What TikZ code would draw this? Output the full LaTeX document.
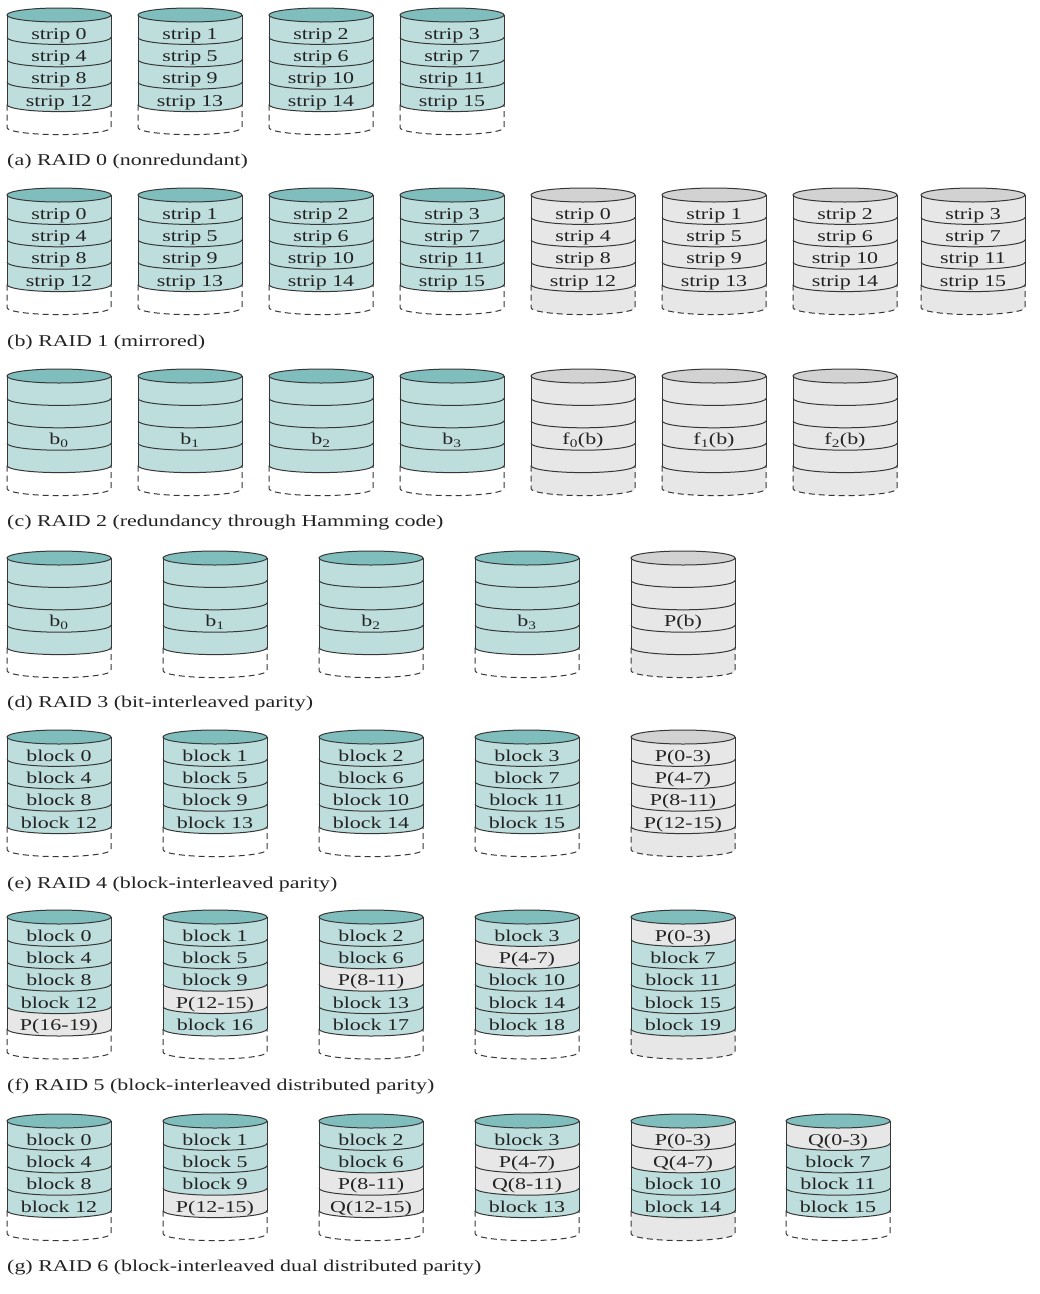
\documentclass[tikz,border=0pt]{standalone}
\usepackage{fontspec}
\setmainfont{Liberation Serif}[FakeStretch=1.33]
\definecolor{tealbody}{RGB}{190,222,221}
\definecolor{tealtop}{RGB}{128,190,190}
\definecolor{graybody}{RGB}{231,231,231}
\definecolor{graytop}{RGB}{210,210,210}
\definecolor{ink}{RGB}{55,55,55}
\definecolor{txtc}{RGB}{35,35,35}
\tikzset{
  rowT/.style={fill=tealbody},
  rowG/.style={fill=graybody},
  rowW/.style={fill=white},
  ln/.style={draw=ink,line width=1pt},
  dsh/.style={draw=ink,line width=1pt,dash pattern=on 6pt off 4pt},
  txt/.style={text=txtc,font=\fontsize{16.5}{18}\selectfont,inner sep=0pt,text height=12pt,text depth=2pt},
  lbl/.style={txt,anchor=west}
}
% #1 name, #2 x, #3 y0 (top), #4 number of rows, #5 top colour, #6 bottom fill style, #7 rows
\newcommand\disk[7]{%
 \begin{scope}[shift={(#2,-#3)}]
  \pgfmathsetmacro\ybot{-14-#4*22.4}
  \foreach \fl/\lab [count=\i from 0] in {#7}{
    \pgfmathsetmacro\yt{-14-\i*22.4}
    \pgfmathsetmacro\yb{\yt-22.4}
    \path[\fl] (0,\yt+7) arc[start angle=180,end angle=360,x radius=52,y radius=7] -- (104,\yb+7) arc[start angle=0,end angle=-180,x radius=52,y radius=7] -- cycle;
  }
  \path[#6] (0,\ybot+7) arc[start angle=180,end angle=360,x radius=52,y radius=7] -- (104,\ybot-16) arc[start angle=0,end angle=-180,x radius=52,y radius=7] -- cycle;
  \foreach \fl/\lab [count=\i from 0] in {#7}{
    \pgfmathsetmacro\yt{-14-\i*22.4}
    \pgfmathsetmacro\yb{\yt-22.4}
    \draw[ln] (0,\yb+7) arc[start angle=180,end angle=360,x radius=52,y radius=7];
    \node[txt] (#1-\i) at (52,\yt-12) {\lab};
  }
  \draw[ln] (0,-7) -- (0,\ybot+7) (104,-7) -- (104,\ybot+7);
  \draw[dsh] (0,\ybot+7) -- (0,\ybot-16) arc[start angle=180,end angle=360,x radius=52,y radius=7] -- (104,\ybot+7);
  \draw[ln,fill=#5] (52,-7) ellipse[x radius=52,y radius=7];
 \end{scope}}
\begin{document}
\begin{tikzpicture}[x=1pt,y=1pt]
\useasboundingbox (0,0) rectangle (1040,-1294);
\fill[white] (0,0) rectangle (1040,-1294);
% (a) RAID 0
\disk{a1}{7}{8}{4}{tealtop}{rowW}{rowT/strip 0,rowT/strip 4,rowT/strip 8,rowT/strip 12}
\disk{a2}{138}{8}{4}{tealtop}{rowW}{rowT/strip 1,rowT/strip 5,rowT/strip 9,rowT/strip 13}
\disk{a3}{269}{8}{4}{tealtop}{rowW}{rowT/strip 2,rowT/strip 6,rowT/strip 10,rowT/strip 14}
\disk{a4}{400}{8}{4}{tealtop}{rowW}{rowT/strip 3,rowT/strip 7,rowT/strip 11,rowT/strip 15}
\node[lbl] (la) at (7,-160) {(a) RAID 0 (nonredundant)};
% (b) RAID 1
\disk{b1}{7}{188}{4}{tealtop}{rowW}{rowT/strip 0,rowT/strip 4,rowT/strip 8,rowT/strip 12}
\disk{b2}{138}{188}{4}{tealtop}{rowW}{rowT/strip 1,rowT/strip 5,rowT/strip 9,rowT/strip 13}
\disk{b3}{269}{188}{4}{tealtop}{rowW}{rowT/strip 2,rowT/strip 6,rowT/strip 10,rowT/strip 14}
\disk{b4}{400}{188}{4}{tealtop}{rowW}{rowT/strip 3,rowT/strip 7,rowT/strip 11,rowT/strip 15}
\disk{b5}{531}{188}{4}{graytop}{rowG}{rowG/strip 0,rowG/strip 4,rowG/strip 8,rowG/strip 12}
\disk{b6}{662}{188}{4}{graytop}{rowG}{rowG/strip 1,rowG/strip 5,rowG/strip 9,rowG/strip 13}
\disk{b7}{793}{188}{4}{graytop}{rowG}{rowG/strip 2,rowG/strip 6,rowG/strip 10,rowG/strip 14}
\disk{b8}{921}{188}{4}{graytop}{rowG}{rowG/strip 3,rowG/strip 7,rowG/strip 11,rowG/strip 15}
\node[lbl] (lb) at (7,-341) {(b) RAID 1 (mirrored)};
% (c) RAID 2
\disk{c1}{7}{369}{4}{tealtop}{rowW}{rowT/{},rowT/{},rowT/b\textsubscript{0},rowT/{}}
\disk{c2}{138}{369}{4}{tealtop}{rowW}{rowT/{},rowT/{},rowT/b\textsubscript{1},rowT/{}}
\disk{c3}{269}{369}{4}{tealtop}{rowW}{rowT/{},rowT/{},rowT/b\textsubscript{2},rowT/{}}
\disk{c4}{400}{369}{4}{tealtop}{rowW}{rowT/{},rowT/{},rowT/b\textsubscript{3},rowT/{}}
\disk{c5}{531}{369}{4}{graytop}{rowG}{rowG/{},rowG/{},rowG/f\textsubscript{0}(b),rowG/{}}
\disk{c6}{662}{369}{4}{graytop}{rowG}{rowG/{},rowG/{},rowG/f\textsubscript{1}(b),rowG/{}}
\disk{c7}{793}{369}{4}{graytop}{rowG}{rowG/{},rowG/{},rowG/f\textsubscript{2}(b),rowG/{}}
\node[lbl] (lc) at (7,-521) {(c) RAID 2 (redundancy through Hamming code)};
% (d) RAID 3
\disk{d1}{7}{551}{4}{tealtop}{rowW}{rowT/{},rowT/{},rowT/b\textsubscript{0},rowT/{}}
\disk{d2}{163}{551}{4}{tealtop}{rowW}{rowT/{},rowT/{},rowT/b\textsubscript{1},rowT/{}}
\disk{d3}{319}{551}{4}{tealtop}{rowW}{rowT/{},rowT/{},rowT/b\textsubscript{2},rowT/{}}
\disk{d4}{475}{551}{4}{tealtop}{rowW}{rowT/{},rowT/{},rowT/b\textsubscript{3},rowT/{}}
\disk{d5}{631}{551}{4}{graytop}{rowG}{rowG/{},rowG/{},rowG/P(b),rowG/{}}
\node[lbl] (ld) at (7,-702) {(d) RAID 3 (bit-interleaved parity)};
% (e) RAID 4
\disk{e1}{7}{730}{4}{tealtop}{rowW}{rowT/block 0,rowT/block 4,rowT/block 8,rowT/block 12}
\disk{e2}{163}{730}{4}{tealtop}{rowW}{rowT/block 1,rowT/block 5,rowT/block 9,rowT/block 13}
\disk{e3}{319}{730}{4}{tealtop}{rowW}{rowT/block 2,rowT/block 6,rowT/block 10,rowT/block 14}
\disk{e4}{475}{730}{4}{tealtop}{rowW}{rowT/block 3,rowT/block 7,rowT/block 11,rowT/block 15}
\disk{e5}{631}{730}{4}{graytop}{rowG}{rowG/P(0-3),rowG/P(4-7),rowG/P(8-11),rowG/P(12-15)}
\node[lbl] (le) at (7,-883) {(e) RAID 4 (block-interleaved parity)};
% (f) RAID 5
\disk{f1}{7}{910}{5}{tealtop}{rowW}{rowT/block 0,rowT/block 4,rowT/block 8,rowT/block 12,rowG/P(16-19)}
\disk{f2}{163}{910}{5}{tealtop}{rowW}{rowT/block 1,rowT/block 5,rowT/block 9,rowG/P(12-15),rowT/block 16}
\disk{f3}{319}{910}{5}{tealtop}{rowW}{rowT/block 2,rowT/block 6,rowG/P(8-11),rowT/block 13,rowT/block 17}
\disk{f4}{475}{910}{5}{tealtop}{rowW}{rowT/block 3,rowG/P(4-7),rowT/block 10,rowT/block 14,rowT/block 18}
\disk{f5}{631}{910}{5}{tealtop}{rowG}{rowG/P(0-3),rowT/block 7,rowT/block 11,rowT/block 15,rowT/block 19}
\node[lbl] (lf) at (7,-1085) {(f) RAID 5 (block-interleaved distributed parity)};
% (g) RAID 6
\disk{g1}{7}{1114}{4}{tealtop}{rowW}{rowT/block 0,rowT/block 4,rowT/block 8,rowT/block 12}
\disk{g2}{163}{1114}{4}{tealtop}{rowW}{rowT/block 1,rowT/block 5,rowT/block 9,rowG/P(12-15)}
\disk{g3}{319}{1114}{4}{tealtop}{rowW}{rowT/block 2,rowT/block 6,rowG/P(8-11),rowG/Q(12-15)}
\disk{g4}{475}{1114}{4}{tealtop}{rowW}{rowT/block 3,rowG/P(4-7),rowG/Q(8-11),rowT/block 13}
\disk{g5}{631}{1114}{4}{tealtop}{rowG}{rowG/P(0-3),rowG/Q(4-7),rowT/block 10,rowT/block 14}
\disk{g6}{786}{1114}{4}{tealtop}{rowW}{rowG/Q(0-3),rowT/block 7,rowT/block 11,rowT/block 15}
\node[lbl] (lg) at (7,-1266) {(g) RAID 6 (block-interleaved dual distributed parity)};
\end{tikzpicture}
\end{document}
